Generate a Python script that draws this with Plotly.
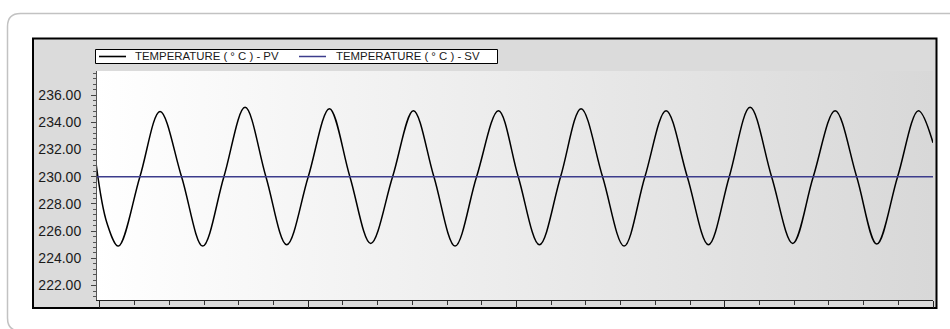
import base64
import plotly.graph_objects as go

# Process value samples: time (s) and temperature (°C) at turning points and set-point crossings
time_s = [-1.15, 2.0, 5.3, 11.5, 17.3, 23.5, 29.6, 35.7, 41.8, 47.8, 53.8,
          60.0, 66.1, 72.0, 78.0, 84.3, 90.3, 96.2, 102.3, 108.5, 114.8,
          120.5, 126.6, 132.7, 138.6, 144.8, 151.0, 157.0, 163.1, 169.2, 175.3,
          181.3, 187.3, 193.5, 199.6, 205.5, 211.8, 218.0, 223.8, 229.8, 235.8,
          240.0]
pv = [231.0, 226.6, 224.9, 230.0, 234.8, 230.0, 224.9, 230.0, 235.1, 230.0, 225.0,
      230.0, 235.0, 230.0, 225.1, 230.0, 234.85, 230.0, 224.9, 230.0, 234.85,
      230.0, 225.0, 230.0, 235.0, 230.0, 224.9, 230.0, 234.85, 230.0, 225.0,
      230.0, 235.1, 230.0, 225.1, 230.0, 234.85, 230.0, 225.05, 230.0, 234.85,
      232.5]

# Set value
sv_time = [-1.15, 240.0]
sv = [230.0, 230.0]

PV_NAME = "TEMPERATURE ( ° C ) - PV"
SV_NAME = "TEMPERATURE ( ° C ) - SV"

y_ticks = [222, 224, 226, 228, 230, 232, 234, 236]

W, H = 950, 329
ML, MR, MT, MB = 96, 17, 71, 29
PW, PH = W - ML - MR, H - MT - MB


def fx(px):
    return (px - ML) / PW


def fy(py):
    return (H - MB - py) / PH


def pt(px, py):
    return f"{fx(px):.5f},{fy(py):.5f}"


fig = go.Figure()
fig.add_trace(go.Scatter(x=time_s, y=pv, name=PV_NAME, mode="lines",
                         line=dict(color="#000000", width=1.5, shape="spline"),
                         hoverinfo="skip", showlegend=False))
fig.add_trace(go.Scatter(x=sv_time, y=sv, name=SV_NAME, mode="lines",
                         line=dict(color="#3c3c8c", width=1.5),
                         hoverinfo="skip", showlegend=False))

x_range = [-1.15, 240]
y_range = [220.94, 237.77]

# background gradient of the plotting area
grad_svg = (
    "<svg xmlns='http://www.w3.org/2000/svg' width='200' height='20' preserveAspectRatio='none'>"
    "<defs><linearGradient id='g' x1='0' x2='1' y1='0' y2='0'>"
    "<stop offset='0' stop-color='#ffffff'/><stop offset='0.05' stop-color='#fdfdfd'/>"
    "<stop offset='1' stop-color='#d8d8d8'/></linearGradient></defs>"
    "<rect width='200' height='20' fill='url(#g)'/></svg>"
)
grad_src = "data:image/svg+xml;base64," + base64.b64encode(grad_svg.encode()).decode()

shapes = []
# outer rounded card
r = 13
x0, y0, x1, y1 = 7.5, 13.5, 975, 331
shapes.append(dict(
    type="path", xref="paper", yref="paper", layer="below",
    path=(f"M{pt(x0, y0 + r)} Q{pt(x0, y0)} {pt(x0 + r, y0)} L{pt(x1, y0)} "
          f"L{pt(x1, y1)} L{pt(x0 + r, y1)} Q{pt(x0, y1)} {pt(x0, y1 - r)} Z"),
    line=dict(color="#c2c2c2", width=1.5), fillcolor="rgba(0,0,0,0)"))
# grey chart panel around the plotting area
fx0, fy0, fx1, fy1 = 32, 38, 937, 309
px0, py0, px1, py1 = ML, MT, W - MR, H - MB
shapes.append(dict(
    type="path", xref="paper", yref="paper", layer="below",
    path=(f"M{pt(fx0, fy0)} L{pt(fx1, fy0)} L{pt(fx1, fy1)} L{pt(fx0, fy1)} Z "
          f"M{pt(px0, py0)} L{pt(px0, py1)} L{pt(px1, py1)} L{pt(px1, py0)} Z"),
    line=dict(width=0), fillcolor="#dbdbdb"))
shapes.append(dict(type="rect", xref="paper", yref="paper", layer="below",
                   x0=fx(fx0 + 1), x1=fx(fx1 - 0.5), y0=fy(fy0 + 0.5), y1=fy(fy1 - 1),
                   line=dict(color="#000000", width=2), fillcolor="rgba(0,0,0,0)"))
# legend box and line samples
shapes.append(dict(type="rect", xref="paper", yref="paper", layer="above",
                   x0=fx(95.5), x1=fx(497.5), y0=fy(49.5), y1=fy(63.5),
                   line=dict(color="#000000", width=1), fillcolor="#ffffff"))
shapes.append(dict(type="line", xref="paper", yref="paper", layer="above",
                   x0=fx(99), x1=fx(126), y0=fy(56.5), y1=fy(56.5),
                   line=dict(color="#000000", width=1.6)))
shapes.append(dict(type="line", xref="paper", yref="paper", layer="above",
                   x0=fx(299), x1=fx(326), y0=fy(56.5), y1=fy(56.5),
                   line=dict(color="#3c3c8c", width=1.5)))

legend_font = dict(family="Arial, Liberation Sans, sans-serif", size=11.4, color="#1a1a1a")
annotations = [
    dict(xref="paper", yref="paper", x=fx(133), y=fy(56.5), xanchor="left", yanchor="middle",
         text=PV_NAME, showarrow=False, font=legend_font),
    dict(xref="paper", yref="paper", x=fx(334), y=fy(56.5), xanchor="left", yanchor="middle",
         text=SV_NAME, showarrow=False, font=legend_font),
]

fig.update_layout(
    width=W, height=H,
    margin=dict(l=ML, r=MR, t=MT, b=MB, pad=0),
    paper_bgcolor="#ffffff", plot_bgcolor="rgba(0,0,0,0)",
    showlegend=False,
    shapes=shapes, annotations=annotations,
    images=[dict(source=grad_src, xref="paper", yref="paper", x=0, y=1,
                 sizex=1, sizey=1, xanchor="left", yanchor="top",
                 sizing="stretch", layer="below")],
    xaxis=dict(range=x_range, domain=[0, 1], showgrid=False, zeroline=False,
               showline=True, linecolor="#222222", linewidth=1,
               ticks="outside", ticklen=7, tickcolor="#222222", tickwidth=1,
               tick0=0, dtick=60, showticklabels=False,
               minor=dict(ticks="outside", ticklen=4, tick0=0, dtick=10,
                          tickcolor="#333333", showgrid=False)),
    xaxis2=dict(range=x_range, overlaying="x", side="top", anchor="y",
                showgrid=False, zeroline=False, showline=False,
                ticks="inside", ticklen=4, tickcolor="#333333",
                tick0=0, dtick=10, showticklabels=False),
    xaxis3=dict(range=x_range, overlaying="x", side="bottom", anchor="y",
                showgrid=False, zeroline=False, showline=False,
                ticks="inside", ticklen=4, tickcolor="#222222",
                tick0=0, dtick=60, showticklabels=False),
    yaxis=dict(range=y_range, anchor="free", position=0, showgrid=False, zeroline=False,
               showline=True, linecolor="#555555", linewidth=1,
               ticks="outside", ticklen=5, tickcolor="#444444",
               tickvals=y_ticks, tickformat=".2f", ticklabelstandoff=7,
               tickfont=dict(family="Arial, Liberation Sans, sans-serif", size=14, color="#1a1a1a"),
               minor=dict(ticks="outside", ticklen=3, tick0=222, dtick=0.4,
                          tickcolor="#555555", showgrid=False)),
    yaxis2=dict(range=y_range, overlaying="y", anchor="free", position=0, side="left",
                showgrid=False, zeroline=False, showline=False,
                ticks="inside", ticklen=5, tickcolor="#444444",
                tickvals=y_ticks, showticklabels=False,
                minor=dict(ticks="inside", ticklen=2, tick0=222, dtick=0.4,
                           tickcolor="#555555", showgrid=False)),
    yaxis3=dict(range=y_range, overlaying="y", anchor="x", side="right",
                showgrid=False, zeroline=False, showline=True, linecolor="#b0b0b0",
                ticks="inside", ticklen=4, tickcolor="#555555",
                tickvals=y_ticks, showticklabels=False,
                minor=dict(ticks="inside", ticklen=2.5, tick0=222, dtick=0.4,
                           tickcolor="#666666", showgrid=False)),
)

fig.write_html("out.html")
